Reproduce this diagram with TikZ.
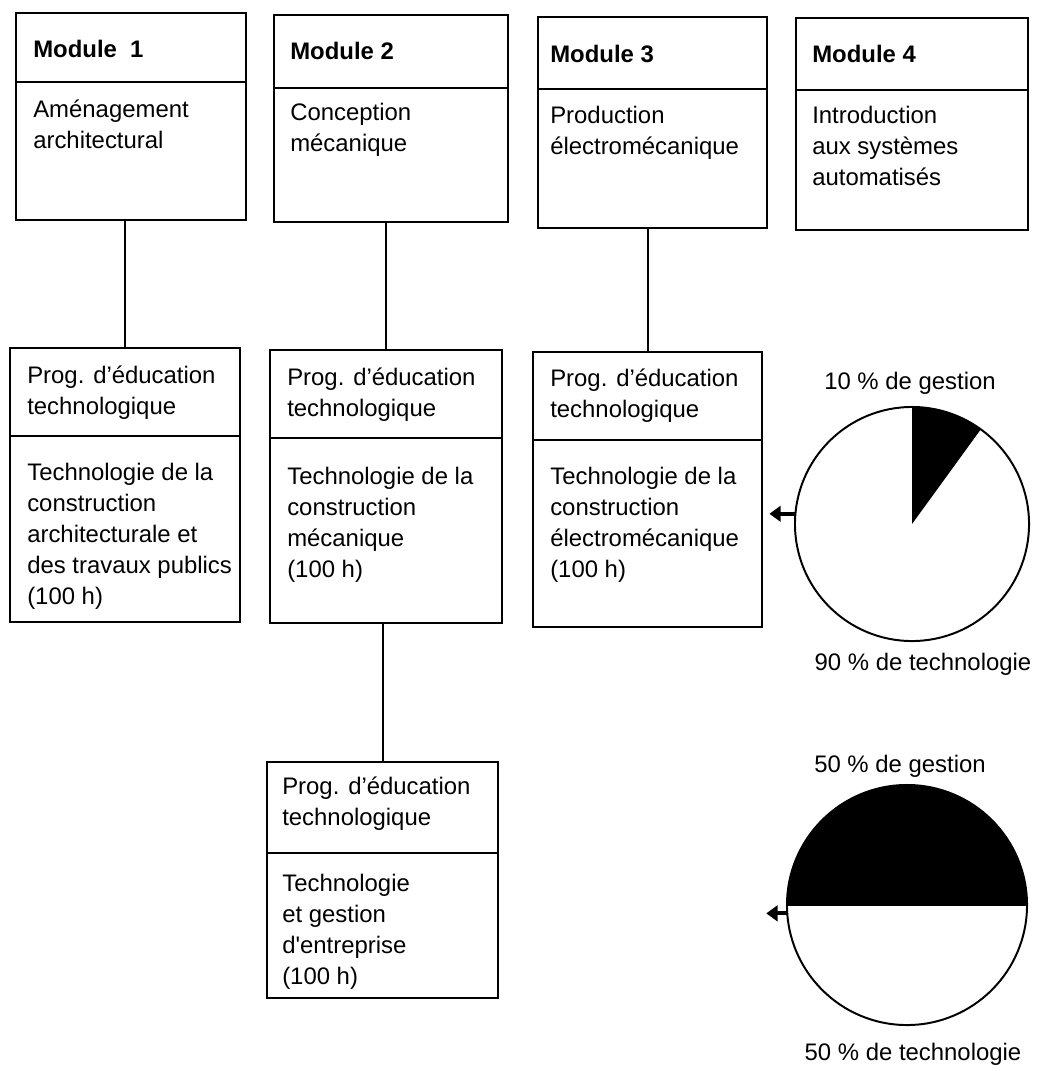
\documentclass[tikz,border=0pt]{standalone}
\usepackage{fontspec}
\setmainfont{Liberation Sans}
\usetikzlibrary{arrows.meta,positioning,calc}

\begin{document}
\begin{tikzpicture}[x=0.025cm, y=-0.025cm]
\tikzstyle{box} = [rectangle, draw, line width=1.4pt, inner sep=0pt, outer sep=0pt, anchor=north west]
% base of a multi-line text is its last line
\tikzstyle{txt} = [anchor=base west, align=left, inner sep=0pt, font=\fontsize{17}{22}\selectfont]
\tikzstyle{head} = [txt, font=\fontsize{17}{22}\selectfont\bfseries]
\tikzstyle{lbl} = [anchor=base, inner sep=0pt, font=\fontsize{17}{22}\selectfont]
\tikzstyle{link} = [line width=1.4pt]
\tikzstyle{pie} = [circle, draw, line width=1.4pt, inner sep=0pt, outer sep=0pt]
\tikzstyle{arrow} = [line width=2.8pt, -{Triangle[length=8pt,width=11pt]}]

\fill[white] (0,0) rectangle (1038,1071);
\useasboundingbox (0,0) rectangle (1038,1071);

% modules
\node (mod1) [box, minimum width=5.75cm, minimum height=5.175cm] at (16,13) {};
\node (mod2) [box, minimum width=5.85cm, minimum height=5.175cm] at (274,15) {};
\node (mod3) [box, minimum width=5.725cm, minimum height=5.275cm] at (538,17) {};
\node (mod4) [box, minimum width=5.8cm, minimum height=5.3cm] at (796,18) {};
\draw [link] (mod1.west |- 0,82) -- (mod1.east |- 0,82);
\draw [link] (mod2.west |- 0,88) -- (mod2.east |- 0,88);
\draw [link] (mod3.west |- 0,89) -- (mod3.east |- 0,89);
\draw [link] (mod4.west |- 0,90) -- (mod4.east |- 0,90);

\node (mod1h) [head] at (33,58) {Module \ 1};
\node (mod2h) [head] at (290,60) {Module 2};
\node (mod3h) [head] at (550,63) {Module 3};
\node (mod4h) [head] at (812,63) {Module 4};
\node (mod1t) [txt] at (33,148) {Aménagement\\architectural};
\node (mod2t) [txt] at (290,151) {Conception\\mécanique};
\node (mod3t) [txt] at (550,154) {Production\\électromécanique};
\node (mod4t) [txt] at (812,185) {Introduction\\aux systèmes\\automatisés};

% programmes
\node (prog1) [box, minimum width=5.75cm, minimum height=6.85cm] at (10,348) {};
\node (prog2) [box, minimum width=5.8cm, minimum height=6.825cm] at (270,350) {};
\node (prog3) [box, minimum width=5.725cm, minimum height=6.875cm] at (533,352) {};
\node (prog4) [box, minimum width=5.775cm, minimum height=5.9cm] at (267,762) {};
\draw [link] (prog1.west |- 0,436) -- (prog1.east |- 0,436);
\draw [link] (prog2.west |- 0,438) -- (prog2.east |- 0,438);
\draw [link] (prog3.west |- 0,440) -- (prog3.east |- 0,440);
\draw [link] (prog4.west |- 0,853) -- (prog4.east |- 0,853);

\node (prog1h) [txt] at (27,414) {Prog. d’éducation\\technologique};
\node (prog2h) [txt] at (287,416) {Prog. d’éducation\\technologique};
\node (prog3h) [txt] at (550,417) {Prog. d’éducation\\technologique};
\node (prog4h) [txt] at (282,825) {Prog. d’éducation\\technologique};
\node (prog1t) [txt] at (27,604) {Technologie de la\\construction\\architecturale et\\des travaux publics\\(100 h)};
\node (prog2t) [txt] at (287,577) {Technologie de la\\construction\\mécanique\\(100 h)};
\node (prog3t) [txt] at (550,577) {Technologie de la\\construction\\électromécanique\\(100 h)};
\node (prog4t) [txt] at (282,984) {Technologie\\et gestion\\d\textquotesingle entreprise\\(100 h)};

\draw [link] (prog1.north) -- (prog1.north |- mod1.south);
\draw [link] (prog2.north) -- (prog2.north |- mod2.south);
\draw [link] (prog3.north) -- (prog3.north |- mod3.south);
\draw [link] (prog4.north) -- (prog4.north |- prog2.south);

% pies
\node (pie1) [pie, minimum size=5.85cm] at (912,524) {};
\fill (pie1.center) -- (pie1.90) arc[start angle=90, end angle=54, radius=2.925cm] -- cycle;
\node (pie2) [pie, minimum size=6cm] at (907,905) {};
\fill (pie2.west) arc[start angle=180, end angle=0, radius=3cm] -- cycle;
\draw [link] (pie2.west) -- (pie2.east);

\coordinate (out1) at ($(pie1.175)+(-26,0)$);
\coordinate (out2) at ($(pie2.184)+(-21,0)$);
\draw [arrow] (pie1.175) -- (out1);
\draw [arrow] (pie2.184) -- (out2);

\node (gest1) [lbl] at (910,389) {10 \% de gestion};
\node (tech1) [lbl] at (923,670) {90 \% de technologie};
\node (gest2) [lbl] at (900,772) {50 \% de gestion};
\node (tech2) [lbl] at (913,1060) {50 \% de technologie};
\end{tikzpicture}
\end{document}
